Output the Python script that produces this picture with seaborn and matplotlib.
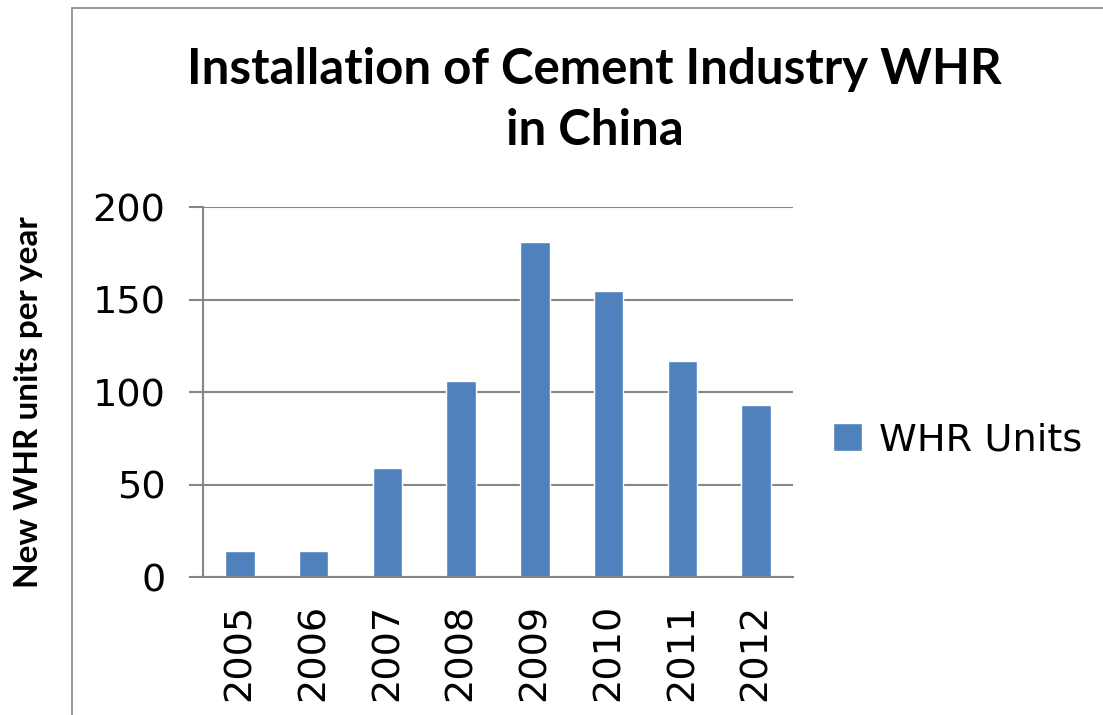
import numpy as np
import pandas as pd
import matplotlib
matplotlib.use('Agg')
import matplotlib.pyplot as plt
import seaborn as sns
from matplotlib.lines import Line2D

# Dados
years = ["2005", "2006", "2007", "2008", "2009", "2010", "2011", "2012"]
whr_units = [14, 14, 59, 106, 181, 155, 117, 93]
y_ticks = [0, 50, 100, 150, 200]

series_name = "WHR Units"
bar_color = "#4F81BD"
grid_color = "#868686"

df = pd.DataFrame({"year": years, "units": whr_units, "series": series_name})

sns.set_theme(style="white")
plt.rcParams['font.family'] = ['DejaVu Sans']
plt.rcParams['text.color'] = 'black'
plt.rcParams['xtick.color'] = 'black'
plt.rcParams['ytick.color'] = 'black'

fig = plt.figure(figsize=(11.03, 7.15), dpi=100)
ax = fig.add_axes([0.184, 0.193, 0.535, 0.517])

sns.barplot(data=df, x="year", y="units", hue="series", palette=[bar_color],
            width=0.4, ax=ax, saturation=1)

ax.set_xlim(-0.5, len(years) - 0.5)
ax.set_ylim(0, 200)
ax.set_yticks(y_ticks)
ax.set_yticklabels([str(v) for v in y_ticks], fontsize=27.5, color='black')
ax.yaxis.grid(True, color=grid_color, linewidth=1.5)
ax.set_axisbelow(True)

# ticks do eixo x nas fronteiras das categorias
ax.set_xticks(range(len(years)))
ax.set_xticklabels(years, rotation=90, fontsize=27.5, color='black')
ax.tick_params(axis='x', which='major', length=0, pad=19)
ax.set_xticks(np.arange(-0.5, len(years)), minor=True)
ax.tick_params(axis='x', which='minor', length=15, width=1.5, color=grid_color, direction='out')
ax.tick_params(axis='y', length=10, width=1.5, color=grid_color, labelcolor='black',
               direction='out', pad=17, left=True)

for side in ['top', 'right']:
    ax.spines[side].set_visible(False)
for side in ['left', 'bottom']:
    ax.spines[side].set_color(grid_color)
    ax.spines[side].set_linewidth(1.5)

ax.set_xlabel("")
ax.set_ylabel("")

fig.text(0.026, 0.438, "New WHR units per year", rotation=90, ha='center', va='center',
         fontsize=24, fontweight='bold', family='Lato', color='black')

fig.text(0.539, 0.860, "Installation of Cement Industry WHR\nin China", ha='center', va='center',
         fontsize=35.5, fontweight='bold', family='Lato', linespacing=1.42, color='black')

ax.legend(loc='center left', bbox_to_anchor=(1.01, 0.37), frameon=False, fontsize=27.5,
          handlelength=0.75, handleheight=0.75, handletextpad=0.45)

# borda externa do gráfico (parcialmente cortada)
fig.add_artist(Line2D([72 / 1103, 72 / 1103], [0, 1 - 8 / 715], transform=fig.transFigure,
                      color=grid_color, linewidth=1.2))
fig.add_artist(Line2D([72 / 1103, 1], [1 - 8 / 715, 1 - 8 / 715], transform=fig.transFigure,
                      color=grid_color, linewidth=1.2))

plt.savefig("out.png", dpi=100)
plt.close()
